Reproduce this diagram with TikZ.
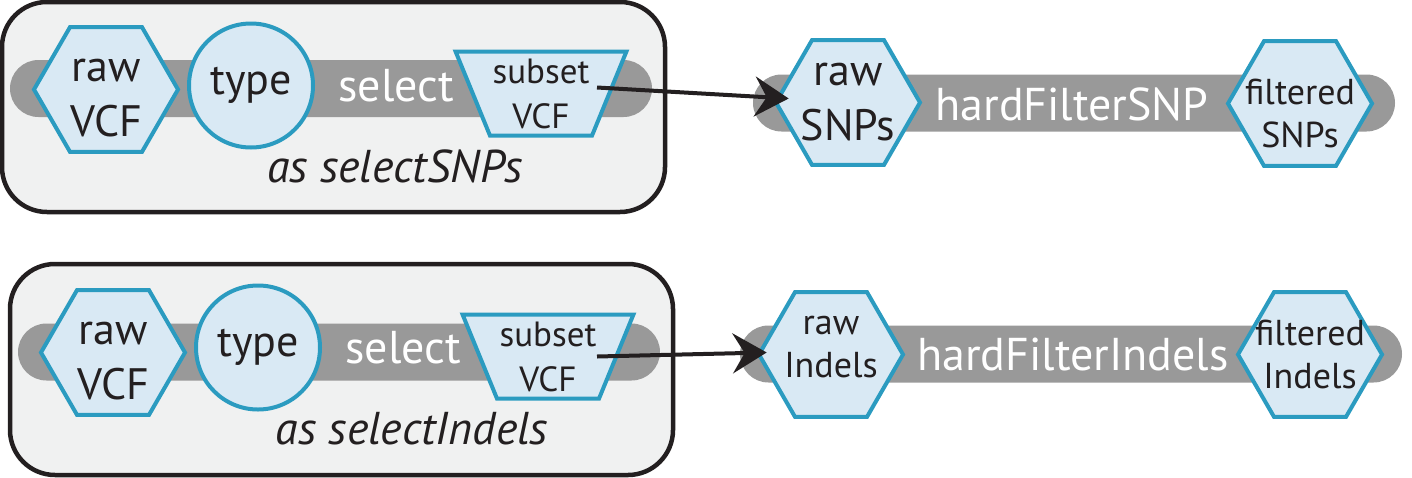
\documentclass[tikz,border=0pt]{standalone}
\usepackage{fontspec}
\setmainfont{PT Sans}
\usepackage{xcolor}
\usepackage{tikz}
\usetikzlibrary{arrows.meta,positioning,shapes.geometric,shapes.misc}

\definecolor{ink}{HTML}{231F20}
\definecolor{trackgray}{HTML}{999999}
\definecolor{portfill}{HTML}{D9E9F4}
\definecolor{portline}{HTML}{2B9BC0}
\definecolor{groupfill}{HTML}{F0F1F1}

\begin{document}
\begin{tikzpicture}[>={Stealth[length=34pt,width=40pt,inset=12pt]},
                    node distance=145pt,
                    x=1pt,y=-1pt,
                    group/.style={draw=ink,fill=groupfill,line width=4.5pt,rounded corners=45pt},
                    track/.style={rounded rectangle,fill=trackgray,inner sep=0pt,minimum height=57pt},
                    hexa/.style={regular polygon,regular polygon sides=6,draw=portline,fill=portfill,
                                 line width=4pt,inner sep=-12pt,minimum size=144pt,align=center,text=ink},
                    param/.style={circle,draw=portline,fill=portfill,line width=4pt,inner sep=0pt,
                                  minimum size=124pt,text=ink,font=\fontsize{44}{55}\selectfont},
                    outfile/.style={trapezium,trapezium stretches=true,shape border rotate=180,
                                    trapezium left angle=65,trapezium right angle=65,
                                    draw=portline,fill=portfill,line width=4pt,inner sep=0pt,
                                    minimum width=171pt,minimum height=84pt,align=center,text=ink,
                                    font=\fontsize{35}{45}\selectfont},
                    bigtext/.style={font=\fontsize{44}{55}\selectfont},
                    smalltext/.style={font=\fontsize{36}{43}\selectfont},
                    tool/.style={text=white,inner sep=0pt,font=\fontsize{46}{55}\selectfont},
                    note/.style={anchor=base,text=ink,inner sep=0pt,font=\fontsize{46}{55}\selectfont\itshape},
                    flow/.style={->,draw=ink,line width=4pt}]

\useasboundingbox (0,0) rectangle (1412,477);

% select, as selectSNPs
\draw[group] (2,2) rectangle (665,212);
\node[track,minimum width=642pt] (trackA) at (331,88.5) {};
\node[hexa,bigtext,text height=95pt] (rawA) at (106,89.5) {raw\\VCF};
\node[param] (typeA) [right of=rawA,yshift=4pt] {type};
\node[tool] (selA) [right of=typeA] {select};
\node[outfile] (subA) [right of=selA,yshift=-8pt] {subset\\VCF};
\node[note] (noteA) at (395,182) {as selectSNPs};

% hardFilterSNP
\node[track,minimum width=642pt] (trackB) at (1074,103) {};
\node[hexa,bigtext] (rawB) at (848,102.5) {raw\\SNPs};
\node[tool,yshift=-2pt] (hardB) [right of=rawB,node distance=224pt] {hardFilterSNP};
\node[hexa,smalltext,text height=88pt] (filtB) [right of=hardB,node distance=228pt,yshift=1pt] {filtered\\SNPs};

% select, as selectIndels
\draw[group] (10,264) rectangle (673,475);
\node[track,minimum width=642pt] (trackC) at (339,352) {};
\node[hexa,bigtext,text height=95pt] (rawC) at (113,352.5) {raw\\VCF};
\node[param] (typeC) [right of=rawC,yshift=5pt] {type};
\node[tool] (selC) [right of=typeC] {select};
\node[outfile] (subC) [right of=selC,yshift=-9pt] {subset\\VCF};
\node[note] (noteC) at (412,444) {as selectIndels};

% hardFilterIndels
\node[track,minimum width=662pt] (trackD) at (1071,354) {};
\node[hexa,smalltext,text height=47pt] (rawD) at (831,354.5) {raw\\Indels};
\node[tool] (hardD) [right of=rawD,node distance=242pt] {hardFilterIndels};
\node[hexa,smalltext] (filtD) [right of=hardD,node distance=237pt] {filtered\\Indels};

\draw[flow] ([xshift=56pt,yshift=6pt]subA.center) -- ([xshift=15pt,yshift=4pt]rawB.west);
\draw[flow] ([xshift=49pt]subC.center) -- ([xshift=10pt,yshift=2pt]rawD.west);
\end{tikzpicture}
\end{document}
